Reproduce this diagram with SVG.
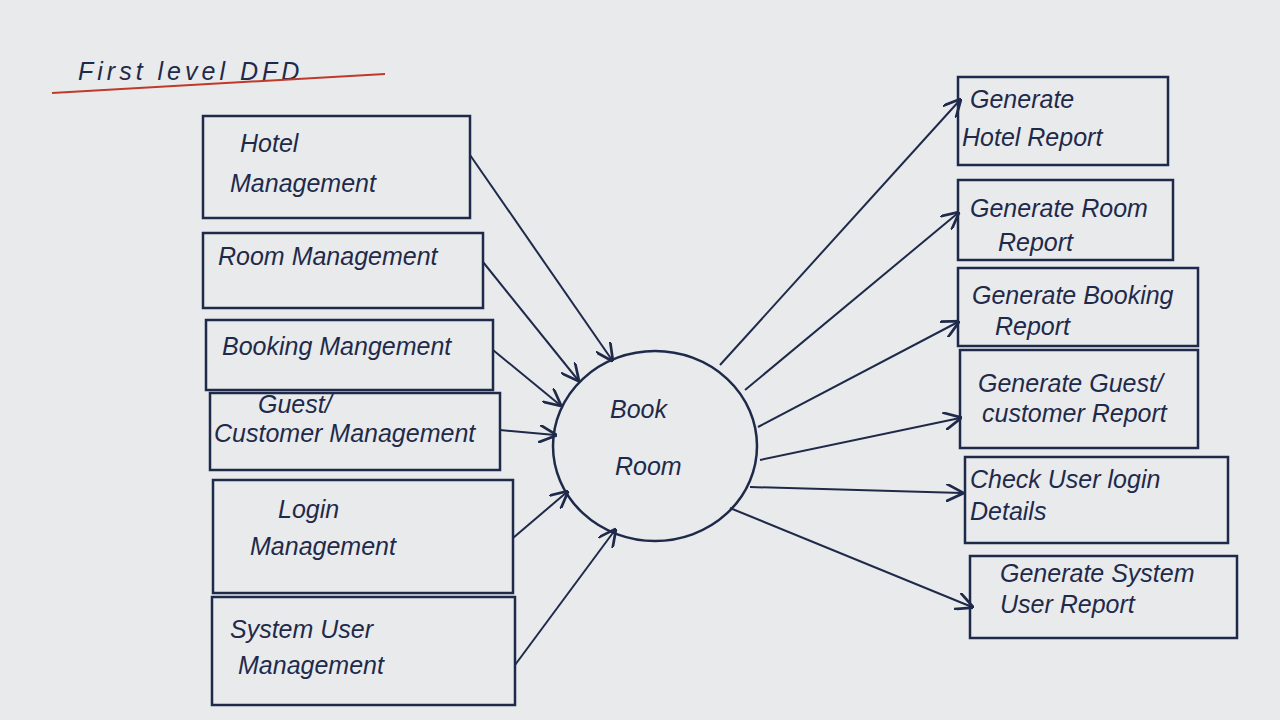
<svg xmlns="http://www.w3.org/2000/svg" width="1280" height="720" viewBox="0 0 1280 720">
<style>
.b{fill:none;stroke:#1f2a4a;stroke-width:2.5}
.t{font-family:"Liberation Sans",sans-serif;font-style:italic;font-size:25px;fill:#1f2a4a}
.c{stroke:#1f2a4a;stroke-width:2;fill:none;marker-end:url(#a)}
</style>
<defs><marker id="a" viewBox="0 0 10 10" refX="9" refY="5" markerWidth="9" markerHeight="9" orient="auto"><path d="M0,0 L10,5 L0,10" fill="none" stroke="#1f2a4a" stroke-width="1.5"/></marker></defs>
<rect width="1280" height="720" fill="#e9eaec"/>
<g id="title"><text class="t" x="78" y="80" font-size="28" letter-spacing="4">First level DFD</text><path d="M52,93 Q200,84 385,74" stroke="#c0392b" stroke-width="2" fill="none"/></g>
<g id="l1"><rect class="b" x="203" y="116" width="267" height="102"/><text class="t" x="240" y="152">Hotel</text><text class="t" x="230" y="192">Management</text></g>
<g id="l2"><rect class="b" x="203" y="233" width="280" height="75"/><text class="t" x="218" y="265">Room Management</text></g>
<g id="l3"><rect class="b" x="206" y="320" width="287" height="70"/><text class="t" x="222" y="355">Booking Mangement</text></g>
<g id="l4"><rect class="b" x="210" y="393" width="290" height="77"/><text class="t" x="258" y="413" font-size="18">Guest/</text><text class="t" x="214" y="442">Customer Management</text></g>
<g id="l5"><rect class="b" x="213" y="480" width="300" height="113"/><text class="t" x="278" y="518">Login</text><text class="t" x="250" y="555">Management</text></g>
<g id="l6"><rect class="b" x="212" y="597" width="303" height="108"/><text class="t" x="230" y="638">System User</text><text class="t" x="238" y="674">Management</text></g>
<g id="center"><ellipse class="b" cx="655" cy="446" rx="102" ry="95"/><text class="t" x="610" y="418">Book</text><text class="t" x="615" y="475">Room</text></g>
<g id="r1"><rect class="b" x="958" y="77" width="210" height="88"/><text class="t" x="970" y="108">Generate</text><text class="t" x="962" y="146">Hotel Report</text></g>
<g id="r2"><rect class="b" x="958" y="180" width="215" height="80"/><text class="t" x="970" y="217">Generate Room</text><text class="t" x="998" y="251">Report</text></g>
<g id="r3"><rect class="b" x="958" y="268" width="240" height="78"/><text class="t" x="972" y="304">Generate Booking</text><text class="t" x="995" y="335">Report</text></g>
<g id="r4"><rect class="b" x="960" y="350" width="238" height="98"/><text class="t" x="978" y="392">Generate Guest/</text><text class="t" x="982" y="422" font-size="22">customer Report</text></g>
<g id="r5"><rect class="b" x="965" y="457" width="263" height="86"/><text class="t" x="970" y="488">Check User login</text><text class="t" x="970" y="520">Details</text></g>
<g id="r6"><rect class="b" x="970" y="556" width="267" height="82"/><text class="t" x="1000" y="582">Generate System</text><text class="t" x="1000" y="613">User Report</text></g>
<g id="connectors">
<line class="c" x1="470" y1="155" x2="612" y2="360"/>
<line class="c" x1="483" y1="262" x2="578" y2="380"/>
<line class="c" x1="493" y1="350" x2="560" y2="405"/>
<line class="c" x1="500" y1="430" x2="555" y2="435"/>
<line class="c" x1="513" y1="538" x2="567" y2="492"/>
<line class="c" x1="515" y1="665" x2="615" y2="530"/>
<line class="c" x1="720" y1="365" x2="960" y2="100"/>
<line class="c" x1="745" y1="390" x2="958" y2="213"/>
<line class="c" x1="758" y1="427" x2="958" y2="322"/>
<line class="c" x1="760" y1="460" x2="960" y2="418"/>
<line class="c" x1="750" y1="487" x2="962" y2="493"/>
<line class="c" x1="730" y1="508" x2="972" y2="607"/>
</g>
</svg>
